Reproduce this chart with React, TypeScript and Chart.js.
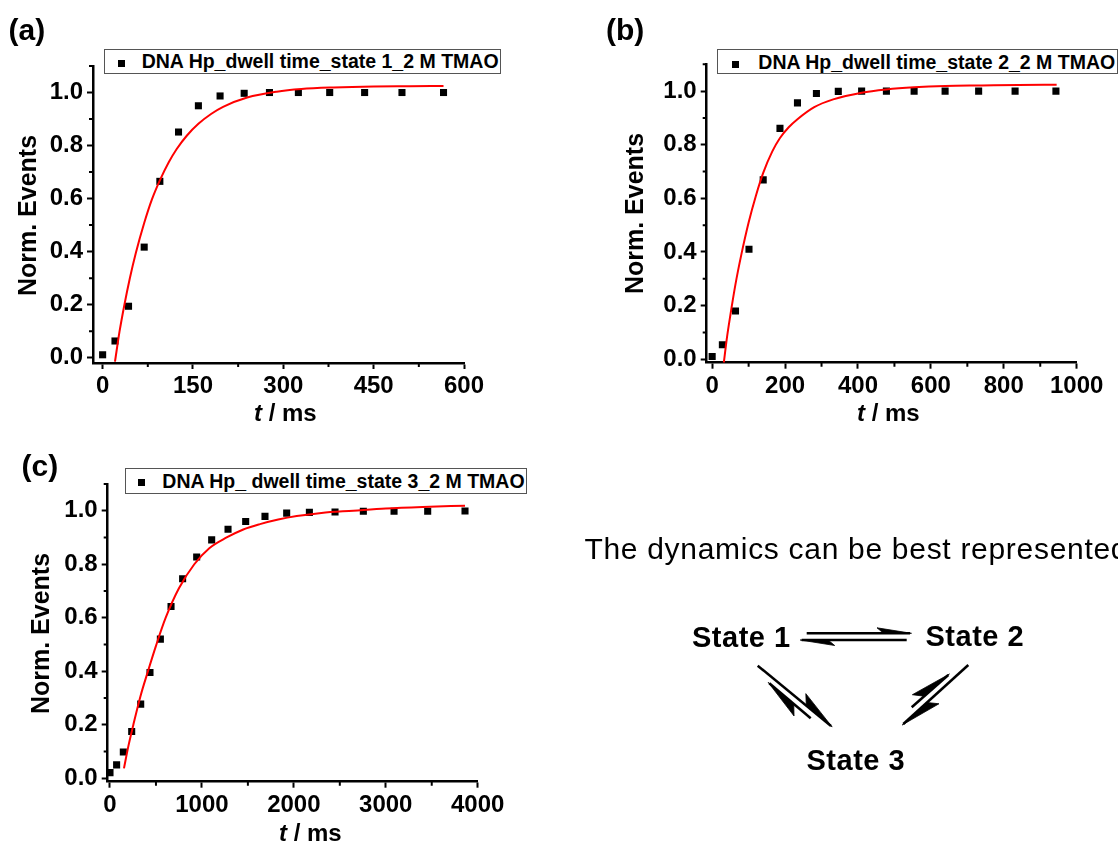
import React, { useEffect, useRef } from "react";
import { Chart, registerables } from "chart.js";

Chart.register(...registerables);

const FONT = "'Liberation Sans', Arial, Helvetica, sans-serif";

// ---------- Panel (a): state 1 ----------
const xA = [0, 20.5, 43, 69, 95, 126, 159, 195, 235, 277, 325, 377, 435, 497, 566];
const yA = [0.011, 0.063, 0.194, 0.417, 0.665, 0.851, 0.95, 0.987, 0.997, 1.0, 1.0, 1.0, 1.0, 1.0, 1.0];
const fitAx = [20.5, 28, 36, 45, 55, 69, 82, 95, 110, 123, 140, 159, 180, 200, 240, 289, 330, 383, 450, 510, 566];
const fitAy = [-0.015, 0.098, 0.198, 0.298, 0.394, 0.508, 0.598, 0.669, 0.738, 0.787, 0.838, 0.882, 0.919, 0.946, 0.981, 1.003, 1.013, 1.019, 1.023, 1.024, 1.025];
const xTicksA = [0, 150, 300, 450, 600];
const xTickLabelsA = ["0", "150", "300", "450", "600"];
const xMinorA = [75, 225, 375, 525];

// ---------- Panel (b): state 2 ----------
const xB = [0, 28, 64, 101, 140, 186, 234, 286, 346, 410, 478, 554, 639, 731, 831, 943];
const yB = [0.01, 0.054, 0.18, 0.41, 0.669, 0.861, 0.956, 0.991, 0.999, 1.0, 1.0, 1.0, 1.0, 1.0, 1.0, 1.0];
const fitBx = [32, 40, 50, 64, 80, 100, 120, 140, 165, 186, 210, 234, 280, 332, 410, 478, 554, 639, 740, 840, 945];
const fitBy = [-0.013, 0.075, 0.165, 0.28, 0.39, 0.51, 0.61, 0.695, 0.775, 0.825, 0.865, 0.895, 0.94, 0.969, 0.994, 1.006, 1.014, 1.019, 1.021, 1.023, 1.024];
const xTicksB = [0, 200, 400, 600, 800, 1000];
const xTickLabelsB = ["0", "200", "400", "600", "800", "1000"];
const xMinorB = [100, 300, 500, 700, 900];

// ---------- Panel (c): state 3 ----------
const xC = [0, 72, 145, 236, 334, 435, 548, 664, 790, 943, 1106, 1284, 1476, 1686, 1922, 2169, 2448, 2756, 3090, 3456, 3862];
const yC = [0.021, 0.05, 0.098, 0.175, 0.277, 0.395, 0.52, 0.642, 0.746, 0.827, 0.891, 0.931, 0.96, 0.979, 0.991, 0.994, 0.995, 0.998, 0.998, 0.998, 0.999];
const fitCx = [152, 200, 254, 330, 413, 500, 606, 750, 917, 1080, 1269, 1450, 1632, 1830, 2031, 2300, 2647, 3000, 3400, 3862];
const fitCy = [0.037, 0.12, 0.2, 0.305, 0.4, 0.495, 0.6, 0.71, 0.8, 0.86, 0.9, 0.93, 0.95, 0.967, 0.98, 0.992, 1.0, 1.008, 1.014, 1.019];
const xTicksC = [0, 1000, 2000, 3000, 4000];
const xTickLabelsC = ["0", "1000", "2000", "3000", "4000"];
const xMinorC = [500, 1500, 2500, 3500];

// ---------- shared y axis ----------
const yTicks = [0, 0.2, 0.4, 0.6, 0.8, 1.0];
const yTickLabels = ["0.0", "0.2", "0.4", "0.6", "0.8", "1.0"];
const yMinor = [0.1, 0.3, 0.5, 0.7, 0.9, 1.1];

const legendA = "DNA Hp_dwell time_state 1_2 M TMAO";
const legendB = "DNA Hp_dwell time_state 2_2 M TMAO";
const legendC = "DNA Hp_ dwell time_state 3_2 M TMAO";

const minorTicksPlugin = {
  id: "minorTicks",
  afterDraw(chart: any, _args: any, opts: any) {
    const { ctx, chartArea } = chart;
    const xs = chart.scales.x;
    const ys = chart.scales.y;
    ctx.save();
    ctx.strokeStyle = "#000";
    ctx.lineWidth = 2;
    ctx.beginPath();
    (opts.x || []).forEach((v: number) => {
      const px = xs.getPixelForValue(v);
      ctx.moveTo(px, chartArea.bottom);
      ctx.lineTo(px, chartArea.bottom + 4);
    });
    (opts.y || []).forEach((v: number) => {
      const py = ys.getPixelForValue(v);
      ctx.moveTo(chartArea.left, py);
      ctx.lineTo(chartArea.left - 4, py);
    });
    ctx.stroke();
    ctx.restore();
  },
};

type Cfg = {
  xs: number[];
  ys: number[];
  fx: number[];
  fy: number[];
  xmin: number;
  xmax: number;
  ymin: number;
  ymax: number;
  xTicks: number[];
  xLabels: string[];
  xMinor: number[];
  WL: number;
  T: number;
  R: number;
  HB: number;
};

function makeChart(canvas: HTMLCanvasElement, c: Cfg) {
  const tickFont = { family: FONT, size: 24, weight: "bold" as const };
  return new Chart(canvas, {
    type: "scatter",
    data: {
      datasets: [
        {
          data: c.fx.map((x, i) => ({ x, y: c.fy[i] })),
          showLine: true,
          borderColor: "#ff0000",
          borderWidth: 2,
          pointRadius: 0,
          cubicInterpolationMode: "monotone",
          fill: false,
        } as any,
        {
          data: c.xs.map((x, i) => ({ x, y: c.ys[i] })),
          pointStyle: "rect",
          pointRadius: 5,
          backgroundColor: "#000",
          borderWidth: 0,
          showLine: false,
        } as any,
      ],
    },
    options: {
      animation: false,
      responsive: false,
      events: [],
      layout: { padding: { left: 0, top: c.T, right: c.R, bottom: 0 } },
      plugins: {
        legend: { display: false },
        tooltip: { enabled: false },
        minorTicks: { x: c.xMinor, y: yMinor },
      } as any,
      scales: {
        x: {
          type: "linear",
          min: c.xmin,
          max: c.xmax,
          afterFit: (s: any) => {
            s.height = c.HB;
          },
          afterBuildTicks: (s: any) => {
            s.ticks = c.xTicks.map((v) => ({ value: v }));
          },
          ticks: {
            callback: (_v: any, i: number) => c.xLabels[i],
            font: tickFont,
            color: "#000",
            padding: 3,
            maxRotation: 0,
            autoSkip: false,
          },
          grid: { drawOnChartArea: false, drawTicks: true, tickLength: 6, tickWidth: 2, tickColor: "#000" },
          border: { display: true, color: "#000", width: 2.5 },
        },
        y: {
          type: "linear",
          min: c.ymin,
          max: c.ymax,
          afterFit: (s: any) => {
            s.width = c.WL;
          },
          afterBuildTicks: (s: any) => {
            s.ticks = yTicks.map((v) => ({ value: v }));
          },
          ticks: {
            callback: (_v: any, i: number) => yTickLabels[i],
            font: tickFont,
            color: "#000",
            padding: 4,
            autoSkip: false,
          },
          grid: { drawOnChartArea: false, drawTicks: true, tickLength: 6, tickWidth: 2, tickColor: "#000" },
          border: { display: true, color: "#000", width: 2.5 },
        },
      },
    } as any,
    plugins: [minorTicksPlugin as any],
  });
}

function Legend(props: {
  left: number; top: number; width: number; height: number;
  mx: number; my: number; tx: number; ty: number; text: string;
}) {
  const { left, top, width, height, mx, my, tx, ty, text } = props;
  return (
    <div
      style={{
        position: "absolute", left, top, width, height, boxSizing: "border-box",
        border: "1px solid #555", background: "#fff", overflow: "hidden",
      }}
    >
      <div style={{ position: "absolute", left: mx - left - 3.5 - 1, top: my - top - 3.5 - 1, width: 7, height: 7, background: "#000" }} />
      <div
        style={{
          position: "absolute", left: tx - left - 1, top: ty - top - 1, whiteSpace: "nowrap",
          fontFamily: FONT, fontWeight: "bold", fontSize: 19.5, lineHeight: "19.5px", color: "#000",
        }}
      >
        {text}
      </div>
    </div>
  );
}

function PanelLabel(props: { left: number; top: number; text: string }) {
  return (
    <div style={{ position: "absolute", left: props.left, top: props.top, fontFamily: FONT, fontWeight: "bold", fontSize: 30, lineHeight: "30px", color: "#000", whiteSpace: "nowrap" }}>
      {props.text}
    </div>
  );
}

function XTitle(props: { left: number; top: number }) {
  return (
    <div style={{ position: "absolute", left: props.left, top: props.top, fontFamily: FONT, fontWeight: "bold", fontSize: 24, lineHeight: "24px", color: "#000", whiteSpace: "nowrap" }}>
      <i>t</i> / ms
    </div>
  );
}

function YTitle(props: { cx: number; cy: number }) {
  const w = 220, h = 25;
  return (
    <div
      style={{
        position: "absolute", left: props.cx - w / 2, top: props.cy - h / 2, width: w, height: h,
        textAlign: "center", transform: "rotate(-90deg)", fontFamily: FONT, fontWeight: "bold",
        fontSize: 25, lineHeight: "25px", color: "#000", whiteSpace: "nowrap",
      }}
    >
      Norm. Events
    </div>
  );
}

function harpoon(x1: number, y1: number, x2: number, y2: number, side: number, L: number, W: number) {
  const dx = x2 - x1, dy = y2 - y1;
  const len = Math.hypot(dx, dy);
  const ux = dx / len, uy = dy / len;
  const nx = -uy * side, ny = ux * side;
  const tipx = x2 + ux * 1.5, tipy = y2 + uy * 1.5;
  const bx = x2 - ux * L + nx * W, by = y2 - uy * L + ny * W;
  const mx = x2 - ux * L * 0.8, my = y2 - uy * L * 0.8;
  return (
    <g>
      <line x1={x1} y1={y1} x2={x2} y2={y2} stroke="#000" strokeWidth={2.5} />
      <polygon points={`${tipx},${tipy} ${bx},${by} ${mx},${my}`} fill="#000" stroke="#000" strokeWidth={0.8} strokeLinejoin="miter" />
    </g>
  );
}

export default function App() {
  const ra = useRef<HTMLCanvasElement>(null);
  const rb = useRef<HTMLCanvasElement>(null);
  const rc = useRef<HTMLCanvasElement>(null);

  useEffect(() => {
    Chart.defaults.font.family = FONT;
    const charts: Chart[] = [];
    if (ra.current)
      charts.push(makeChart(ra.current, {
        xs: xA, ys: yA, fx: fitAx, fy: fitAy, xmin: -16, xmax: 600, ymin: -0.02, ymax: 1.1,
        xTicks: xTicksA, xLabels: xTickLabelsA, xMinor: xMinorA, WL: 93, T: 26, R: 36, HB: 67,
      }));
    if (rb.current)
      charts.push(makeChart(rb.current, {
        xs: xB, ys: yB, fx: fitBx, fy: fitBy, xmin: -15, xmax: 1000, ymin: -0.013, ymax: 1.1,
        xTicks: xTicksB, xLabels: xTickLabelsB, xMinor: xMinorB, WL: 96.7, T: 24.3, R: 41.3, HB: 67.3,
      }));
    if (rc.current)
      charts.push(makeChart(rc.current, {
        xs: xC, ys: yC, fx: fitCx, fy: fitCy, xmin: -25, xmax: 4000, ymin: -0.013, ymax: 1.1,
        xTicks: xTicksC, xLabels: xTickLabelsC, xMinor: xMinorC, WL: 107.7, T: 44, R: 42.3, HB: 61.3,
      }));
    return () => charts.forEach((c) => c.destroy());
  }, []);

  return (
    <div style={{ position: "absolute", left: 0, top: 0, width: 1118, height: 843, overflow: "hidden", background: "#fff" }}>
      <canvas ref={ra} width={500} height={390} style={{ position: "absolute", left: 0, top: 40, width: 500, height: 390 }} />
      <canvas ref={rb} width={508} height={390} style={{ position: "absolute", left: 610, top: 40, width: 508, height: 390 }} />
      <canvas ref={rc} width={520} height={403} style={{ position: "absolute", left: 0, top: 440, width: 520, height: 403 }} />

      <PanelLabel left={8.5} top={15} text="(a)" />
      <PanelLabel left={606} top={15} text="(b)" />
      <PanelLabel left={21.5} top={451} text="(c)" />

      <Legend left={104} top={48.5} width={397} height={25.5} mx={121.7} my={63.3} tx={141.7} ty={51.8} text={legendA} />
      <Legend left={717} top={49} width={400.5} height={25} mx={735} my={64} tx={758.3} ty={52.8} text={legendB} />
      <Legend left={125} top={467.7} width={401.7} height={26.3} mx={141.7} my={482.3} tx={162.3} ty={471.8} text={legendC} />

      <XTitle left={254} top={401.4} />
      <XTitle left={857} top={400.8} />
      <XTitle left={279} top={821.4} />

      <YTitle cx={26.5} cy={215} />
      <YTitle cx={634} cy={213} />
      <YTitle cx={39.7} cy={633} />

      <svg width={1118} height={843} style={{ position: "absolute", left: 0, top: 0, pointerEvents: "none" }}>
        <text x={584.4} y={559.3} fontFamily={FONT} fontSize={30} letterSpacing={0.7} fill="#000">
          The dynamics can be best represented
        </text>
        <text x={692} y={647.3} fontFamily={FONT} fontSize={29} fontWeight="bold" letterSpacing={0.5} fill="#000">State 1</text>
        <text x={925.5} y={645.5} fontFamily={FONT} fontSize={29} fontWeight="bold" letterSpacing={0.5} fill="#000">State 2</text>
        <text x={806.5} y={770} fontFamily={FONT} fontSize={29} fontWeight="bold" letterSpacing={0.5} fill="#000">State 3</text>
        {harpoon(806.7, 633.3, 910, 633.3, -1, 33, 5.5)}
        {harpoon(906.7, 640, 801.7, 640, -1, 33, 5.5)}
        {harpoon(757.7, 665.7, 831, 726, -1, 40, 9)}
        {harpoon(810.7, 718.3, 769.3, 683.3, -1, 40, 9)}
        {harpoon(968.3, 665, 903.3, 724, -1, 40, 9)}
        {harpoon(911.7, 707.3, 948.3, 675, -1, 40, 9)}
      </svg>
    </div>
  );
}
